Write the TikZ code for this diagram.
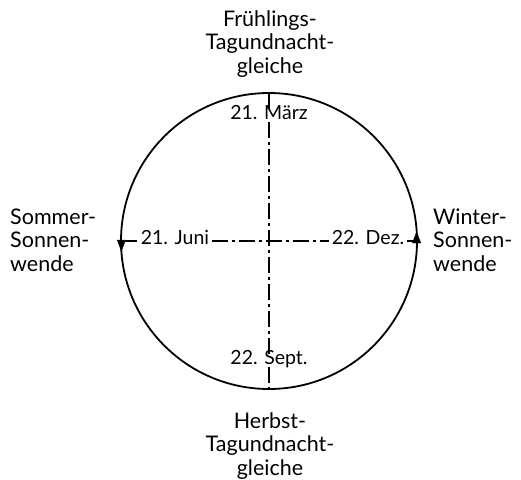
\documentclass[tikz,border=0pt]{standalone}
\usepackage{fontspec}
\setmainfont{Lato}
\usetikzlibrary{arrows.meta}
\begin{document}
\begin{tikzpicture}[x=1pt,y=-1pt,
  circ/.style={line width=1.8pt},
  axis/.style={line width=1.4pt, dash pattern=on 16pt off 4pt on 3pt off 4pt},
  datelbl/.style={font=\fontsize{19.5}{21}\selectfont, inner sep=2.5pt, text height=0.7em, text depth=0pt},
  biglbl/.style={font=\fontsize{21.5}{23.5}\selectfont, inner sep=0pt},
  tiphead/.style={fill=black, draw=black, line width=0.4pt, line join=miter}
]
\useasboundingbox (0,0) rectangle (521,479);
\coordinate (c) at (269,241);
\draw[circ] (c) circle[radius=148];
\coordinate (top) at (269,93);
\coordinate (bot) at (269,389);
\coordinate (lft) at (121,241);
\coordinate (rgt) at (417,241);
\coordinate (lb) at (121.4,251);
\coordinate (rb) at (416.6,232);
\node[datelbl] (maerz) at (269,116) {21. März};
\node[datelbl] (sept) at (269,361) {22. Sept.};
\node[datelbl] (juni) at (175,241) {21. Juni};
\node[datelbl] (dez) at (368,241) {22. Dez.};
\draw[axis] (top) -- (maerz);
\draw[axis] (maerz) -- (sept);
\draw[axis] (sept) -- (bot);
\draw[axis] (lft) -- (juni);
\draw[axis] (juni) -- (dez);
\draw[axis] (dez) -- (rgt);
\filldraw[tiphead] (lb) -- ++(-4.2,-11) -- ++(8.4,0) -- cycle;
\filldraw[tiphead] (rb) -- ++(-4.2,11) -- ++(8.4,0) -- cycle;
\node[biglbl, align=center, anchor=north] (fr) at (270,10) {Frühlings-\\Tagundnacht-\\gleiche};
\node[biglbl, align=center, anchor=north] (he) at (270,412) {Herbst-\\Tagundnacht-\\gleiche};
\node[biglbl, align=left, anchor=west] (so) at (10,240) {Sommer-\\Sonnen-\\wende};
\node[biglbl, align=left, anchor=west] (wi) at (433,240) {Winter-\\Sonnen-\\wende};
\end{tikzpicture}
\end{document}
